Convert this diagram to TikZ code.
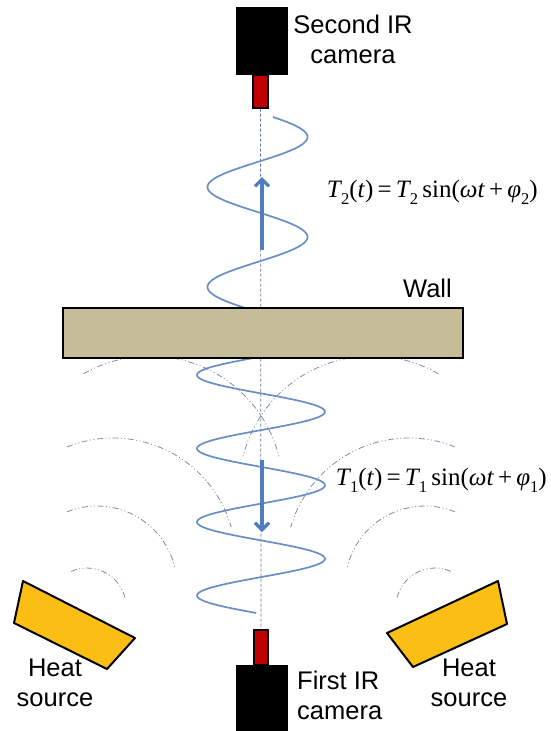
\documentclass[tikz,border=0pt]{standalone}
\usepackage{fontspec}
\setmainfont{Liberation Sans}
\newfontfamily\eqfont{Liberation Serif}
\usetikzlibrary{arrows.meta}

\definecolor{wallfill}{RGB}{196,189,151}
\definecolor{heatfill}{RGB}{250,190,20}
\definecolor{lensred}{RGB}{192,0,0}
\definecolor{wavecol}{RGB}{104,142,198}
\definecolor{arrowcol}{RGB}{79,125,189}
\definecolor{rippcol}{RGB}{125,140,165}
\definecolor{axiscol}{RGB}{95,115,150}

% subscript and temperature law T_i(t)
\newcommand{\eqsub}[1]{\raisebox{-0.28em}{\fontsize{16.5}{16.5}\selectfont #1}}
\newcommand{\phaseeq}[1]{\textit{T}\kern-0.05em\eqsub{#1}(\textit{t})\,=\,\textit{T}\kern-0.05em\eqsub{#1}\,sin(\textit{ωt}\,+\,\textit{φ}\eqsub{#1})}

\tikzset{
  txt/.style={font=\fontsize{25.5}{30}\selectfont, inner sep=0pt, align=center},
  eqn/.style={font=\eqfont\fontsize{25}{29}\selectfont, inner sep=0pt, anchor=east},
  wave/.style={draw=wavecol, line width=1.7pt},
  ripple/.style={draw=rippcol, line width=0.8pt, dash pattern=on 6pt off 2.5pt on 1pt off 2.5pt on 1pt off 2.5pt},
  flow/.style={draw=arrowcol, line width=3.2pt, -{Straight Barb[length=7pt,width=14pt]}},
  lens/.style={rectangle, draw=black, line width=1.2pt, fill=lensred, inner sep=0pt},
  source/.style={fill=heatfill, draw=black, line width=2pt, line join=round},
}

\begin{document}
\begin{tikzpicture}[x=1pt,y=1pt,yscale=-1]
\useasboundingbox (0,0) rectangle (551,731);

%Shape: Ripples [both heat sources]
\foreach \cx/\cy/\r/\a/\b in {150/489/133/-120/-14, 113/561/123/-112/-16, 97/586/80/-112/-14, 87/607/39/-114/-13}{
  \draw[ripple] ({\cx+\r*cos(\a)},{\cy+\r*sin(\a)}) arc[start angle=\a, end angle=\b, radius=\r];
  \draw[ripple] ({522-\cx-\r*cos(\a)},{\cy+\r*sin(\a)}) arc[start angle=180-\a, end angle=180-\b, radius=\r];
}

%Shape: Second IR camera
\fill (236,7) rectangle (288,75);
\node[lens, minimum width=15pt, minimum height=33pt] (lensT) at (260.5,91.5) {};
\node[txt] (camT) at (353,39) {Second IR\\camera};

%Shape: First IR camera
\node[lens, minimum width=14pt, minimum height=35pt] (lensB) at (261,647.5) {};
\fill (236,665) rectangle (288,735);
\node[txt, align=left, anchor=west] (camB) at (297,695) {First IR\\camera};

%Straight Lines [optical axis]
\draw[axiscol, line width=0.7pt, dash pattern=on 3pt off 2pt] (lensT.south) -- (lensB.north);

%Curve Lines [transmitted wave]
\draw[wave] plot[domain=117:308, samples=150, variable=\y] ({257.5+50*cos(3.6*(\y-137))}, \y);
%Curve Lines [incident wave]
\draw[wave] plot[domain=358:613, samples=200, variable=\y] ({261-64*cos(4.898*(\y-375))}, \y);

%Shape: Wall
\draw[fill=wallfill, line width=2pt] (63,308) rectangle (463,358);
\node[txt, anchor=base] (wall) at (427.5,297) {Wall};

%Straight Lines [propagation]
\coordinate (upFrom) at (262,250);
\coordinate (upTo) at (262,177);
\coordinate (downFrom) at (262,460);
\coordinate (downTo) at (262,532);
\draw[flow] (upFrom) -- (upTo);
\draw[flow] (downFrom) -- (downTo);

\node[eqn] (eqT2) at (538,192) {\phaseeq{2}};
\node[eqn] (eqT1) at (547,480) {\phaseeq{1}};

%Shape: Heat sources
\draw[source] (23,581) -- (135,638) -- (107,669) -- (14,623) -- cycle;
\draw[source] (498,581) -- (507,624) -- (413,667) -- (387,633) -- cycle;
\node[txt] (heatL) at (55,683) {Heat\\source};
\node[txt] (heatR) at (469,683) {Heat\\source};

\end{tikzpicture}
\end{document}
